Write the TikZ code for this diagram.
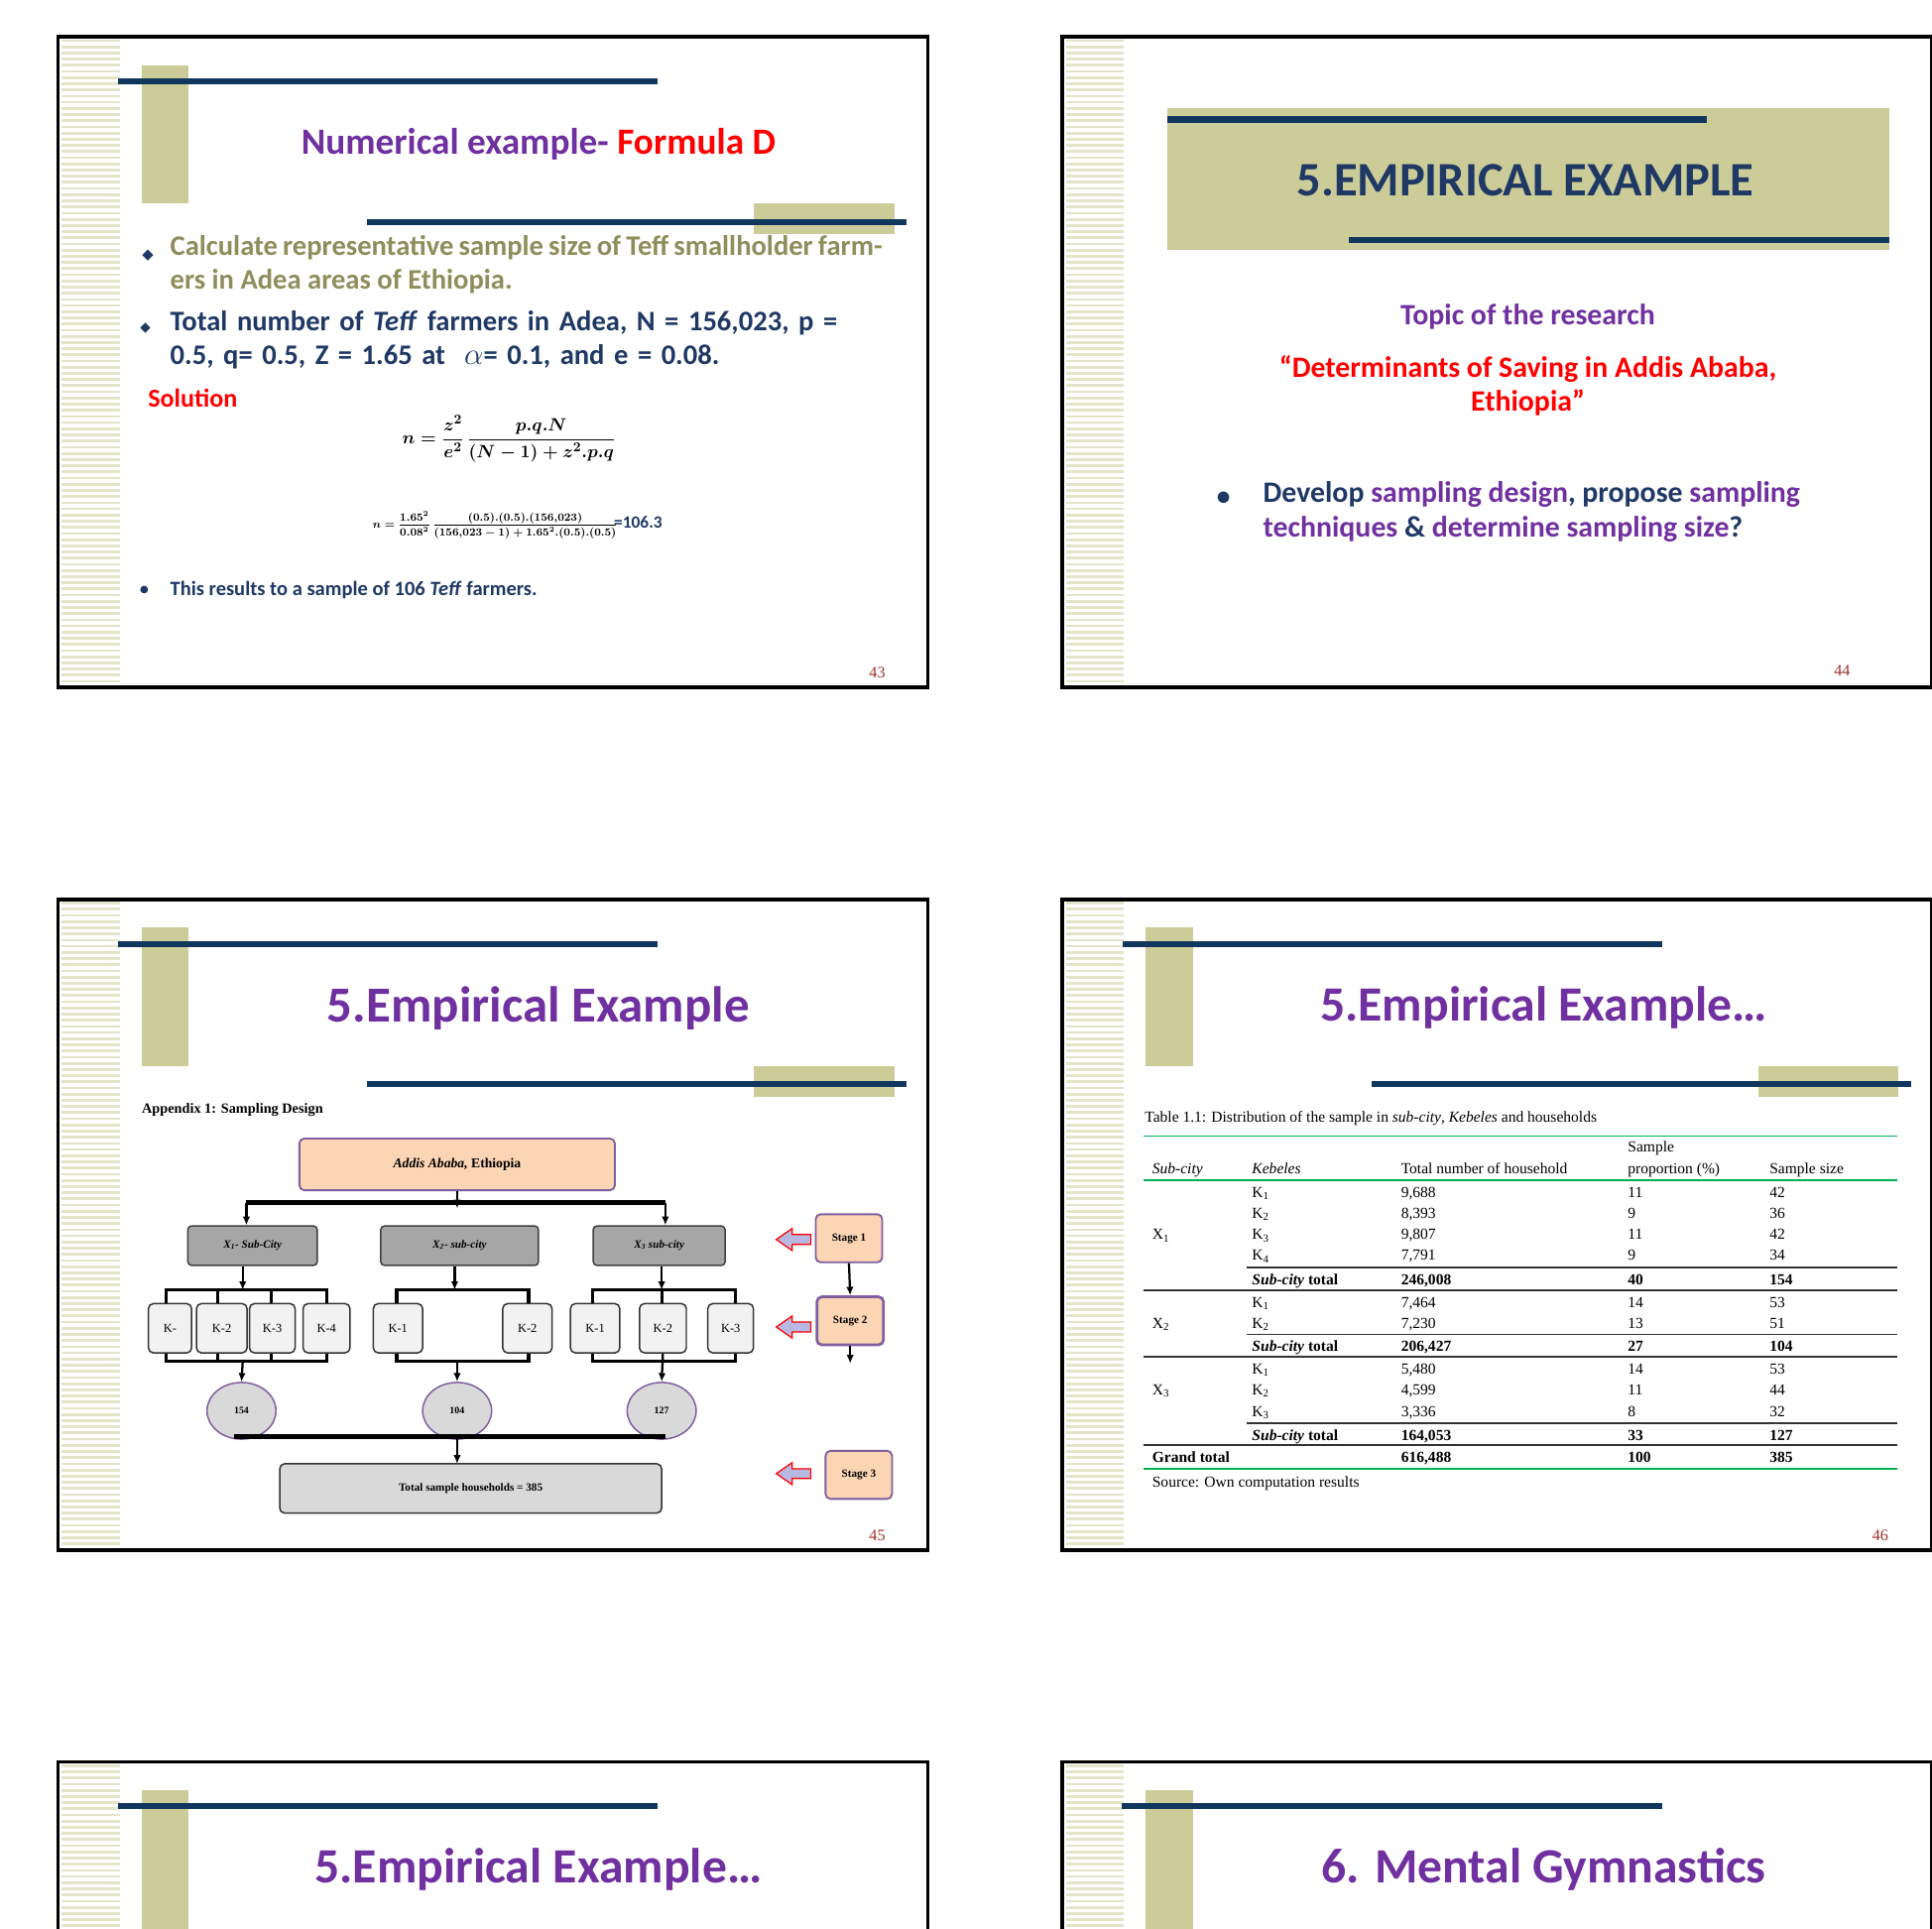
\documentclass[tikz,border=0pt]{standalone}
\usepackage{amsmath}
\usepackage{fontspec}
\setmainfont{Liberation Serif}
\newfontfamily\calfont{Carlito}
\newfontfamily\djfont{DejaVu Sans}
\usetikzlibrary{arrows.meta,shapes.geometric}
\definecolor{olive}{HTML}{CCCC99}
\definecolor{stripe}{HTML}{E4E4C8}
\definecolor{navy}{HTML}{12375F}
\definecolor{purp}{HTML}{7030A0}
\definecolor{oliveTxt}{HTML}{8E8E5C}
\definecolor{navyTxt}{HTML}{1F3864}
\definecolor{peach}{HTML}{FCD5B4}
\definecolor{boxpurp}{HTML}{7F5FA0}
\definecolor{pnum}{HTML}{A0302A}
\definecolor{tgreen}{HTML}{00B050}
\newcommand{\SlideFrame}[2]{%
  \foreach \k in {3,8,...,525} {\draw[stripe,line width=2.2] (#1+3,#2+\k) -- (#1+50,#2+\k);}
  \draw[black,line width=3] (#1,#2) rectangle (#1+706,#2+528);}
\newcommand{\SlideDeco}[2]{%
  \fill[olive] (#1+68,#2+23) rectangle (#1+106,#2+135);
  \draw[navy,line width=5] (#1+49,#2+36) -- (#1+487,#2+36);
  \fill[olive] (#1+565,#2+135) rectangle (#1+679,#2+160);
  \draw[navy,line width=5] (#1+251,#2+150) -- (#1+689,#2+150);}
\newcommand{\FS}[1]{\fontsize{#1}{1.2\dimexpr#1pt\relax}\selectfont}
\tikzset{x=1pt,y=-1pt,
  sub/.style={draw=black!75,line width=1.2,fill=black!35,rounded corners=3,minimum width=#1,minimum height=32,font=\FS{9}\bfseries\itshape},
  kbox/.style={draw=black!80,line width=1.2,fill=black!5,rounded corners=4,minimum width=#1,minimum height=40,font=\FS{10}},
  circ/.style={ellipse,draw=boxpurp,line width=1.2,fill=black!15,minimum width=56,minimum height=46,font=\FS{8}\bfseries,inner sep=0},
  stg/.style={draw=boxpurp,line width=1.5,fill=peach,rounded corners=4,minimum width=54,minimum height=39,font=\FS{9}\bfseries},
  ar/.style={line width=1.8,-{Latex[length=7,width=6]}},
  bar/.style={line width=3.5},
  tx/.style={anchor=base west,inner sep=0,font=\FS{12.5}},
  blk/.style={draw=red,line width=1,fill=gray!60!blue!40}}
\begin{document}
\begin{tikzpicture}
\useasboundingbox (0,0) rectangle (1568,1565);
\fill[white] (0,0) rectangle (1568,1565);
\begin{scope}
\clip (0,0) rectangle (1568,1565);
\SlideFrame{47}{30}\SlideFrame{862}{30}
\SlideFrame{47}{730}\SlideFrame{862}{730}
\SlideFrame{47}{1430}\SlideFrame{862}{1430}
\SlideDeco{47}{30}\SlideDeco{47}{730}\SlideDeco{862}{730}
\fill[olive] (115,1453) rectangle (153,1570);
\draw[navy,line width=5] (96,1466) -- (534,1466);
\fill[olive] (930,1453) rectangle (968,1570);
\draw[navy,line width=5] (910,1466) -- (1349,1466);
\fill[olive] (947,88) rectangle (1533,203);
\draw[navy,line width=5] (947,97) -- (1385,97);
\draw[navy,line width=5] (1095,195) -- (1533,195);
\end{scope}
% ---------- slide 1
\node[font=\calfont\FS{30}\bfseries] (t1) at (437,117) {\textcolor{purp}{Numerical example-} \textcolor{red}{Formula D}};
\node[font=\djfont\FS{12},text=navyTxt] (b1) at (120,207) {◆};
\node[anchor=north west,text width=578,align=justify,font=\calfont\FS{23}\bfseries,text=oliveTxt,inner sep=0] (p1) at (138,191) {Calculate representative sample size of Teff smallholder farmers in Adea areas of Ethiopia.};
\node[font=\djfont\FS{11},text=navyTxt] (b2) at (118,266) {◆};
\node[anchor=north west,text width=580,font=\calfont\FS{23}\bfseries,text=navyTxt,inner sep=0] (p2) at (138,252) {Total number of \textit{Teff} farmers in Adea, N = 156,023, p = 0.5, q= 0.5, Z = 1.65 at \ $\alpha$= 0.1, and e = 0.08.};
\node[anchor=west,font=\calfont\FS{21}\bfseries,text=red,inner sep=0] (sol) at (120,323) {Solution};
\node[font=\FS{15}] (f1) at (413,356) {$\boldsymbol{n=\dfrac{z^2}{e^2}\,\dfrac{p.q.N}{(N-1)+z^2.p.q}}$};
\node[font=\FS{9}] (f2) at (420,426) {$\boldsymbol{n=\dfrac{1.65^2}{0.08^2}\,\dfrac{(0.5).(0.5).(156{,}023)}{(156{,}023-1)+1.65^2.(0.5).(0.5)}}$\hspace{-3pt}\textcolor{navyTxt}{\FS{14}\calfont\bfseries =106.3}};
\node[font=\djfont\FS{8},text=navyTxt] (b3) at (117,479) {●};
\node[anchor=west,font=\calfont\FS{16.5}\bfseries,text=navyTxt,inner sep=0] (p3) at (138,479) {This results to a sample of 106 \textit{Teff} farmers.};
\node[font=\FS{13},text=pnum] (n43) at (712,546) {43};
% ---------- slide 2
\node[font=\calfont\FS{39}\bfseries,text=navyTxt] (t2) at (1238,146) {5.EMPIRICAL EXAMPLE};
\node[font=\calfont\FS{24}\bfseries,text=purp] (top) at (1240,257) {Topic of the research};
\node[font=\calfont\FS{24}\bfseries,text=red,align=center] (q) at (1240,313) {“Determinants of Saving in Addis Ababa,\\[-2pt] Ethiopia”};
\node[font=\calfont\FS{22}\bfseries,text=navyTxt] (b4) at (993,405) {•};
\node[anchor=north west,font=\calfont\FS{24}\bfseries,text=navyTxt,align=left,inner sep=0] (dev) at (1025,391) {Develop \textcolor{purp}{sampling design}, propose \textcolor{purp}{sampling}\\[-1pt] \textcolor{purp}{techniques} \& \textcolor{purp}{determine sampling size}?};
\node[font=\FS{13},text=pnum] (n44) at (1495,544) {44};
% ---------- slide 3
\node[font=\calfont\FS{41}\bfseries,text=purp] (t3) at (437,818) {5.Empirical Example};
\node[anchor=west,font=\FS{11.5}\bfseries,inner sep=0] (app) at (115,901) {Appendix 1: Sampling Design};
\node[draw=boxpurp,line width=1.5,fill=peach,rounded corners=4,minimum width=256,minimum height=42,font=\FS{11}\bfseries] (aa) at (371,945) {\textit{Addis Ababa,} Ethiopia};
\node[sub=105] (x1) at (205,1011) {X\textsubscript{1}- Sub-City};
\node[sub=128] (x2) at (373,1011) {X\textsubscript{2}- sub-city};
\node[sub=107] (x3) at (535,1011) {X\textsubscript{3} sub-city};
\draw[bar] (200,976) -- (540,976);
\draw[ar] (aa.south) -- ++(0,14);
\draw[ar] (200,976) -- (x1.north -| 200,0);
\draw[ar] (540,976) -- (x3.north -| 540,0);
\node[kbox=35] (k11) at (138,1078) {K-};
\node[kbox=41] (k12) at (180,1078) {K-2};
\node[kbox=37] (k13) at (221,1078) {K-3};
\node[kbox=38] (k14) at (265,1078) {K-4};
\node[kbox=40] (k21) at (323,1078) {K-1};
\node[kbox=40] (k22) at (428,1078) {K-2};
\node[kbox=40] (k31) at (483,1078) {K-1};
\node[kbox=38] (k32) at (538,1078) {K-2};
\node[kbox=37] (k33) at (593,1078) {K-3};
\draw[ar] (x1.south -| 197,0) -- (197,1047);
\draw[ar] (x2.south -| 369,0) -- (369,1047);
\draw[ar] (x3.south -| 537,0) -- (537,1047);
\draw[line width=2.5] (k11.north -| 135,0) |- (265,1047) -- (k14.north -| 265,0);
\draw[line width=2.5] (177,1047) -- (k12.north -| 177,0) (220,1047) -- (k13.north -| 220,0);
\draw[line width=2.5] (k21.north -| 322,0) |- (429,1047) -- (k22.north -| 429,0);
\draw[line width=2.5] (k31.north -| 481,0) |- (597,1047) -- (k33.north -| 597,0);
\draw[line width=2.5] (537,1047) -- (k32.north -| 537,0);
\draw[line width=2.5] (k11.south -| 135,0) |- (265,1105) -- (k14.south -| 265,0);
\draw[line width=2.5] (177,1105) -- (k12.south -| 177,0) (220,1105) -- (k13.south -| 220,0);
\draw[line width=2.5] (k21.south -| 322,0) |- (429,1105) -- (k22.south -| 429,0);
\draw[line width=2.5] (k31.south -| 481,0) |- (597,1105) -- (k33.south -| 597,0);
\node[circ] (c1) at (196,1145) {154};
\node[circ] (c2) at (371,1145) {104};
\node[circ] (c3) at (537,1145) {127};
\draw[ar] (197,1105) -- (c1.north);
\draw[ar] (371,1105) -- (c2.north);
\draw[ar] (k32.south) -- (c3.north);
\draw[bar] (190,1166) -- (540,1166);
\node[draw=black!80,line width=1.2,fill=black!15,rounded corners=4,minimum width=310,minimum height=40,font=\FS{9}\bfseries] (tot) at (382,1208) {Total sample households = 385};
\draw[ar] (371,1166) -- (371,1188);
\node[stg] (s1) at (689,1005) {Stage 1};
\node[stg,line width=2.2] (s2) at (690,1072) {Stage 2};
\node[stg] (s3) at (697,1197) {Stage 3};
\draw[ar] (s1.south) -- (s2.north);
\draw[ar] (s2.south) -- ++(0,14);
\foreach \yy/\xx in {1006/658,1077/658,1196/658} {
  \draw[blk] (\xx,\yy-4) -- (643,\yy-4) -- (643,\yy-9) -- (630,\yy) -- (643,\yy+9) -- (643,\yy+4) -- (\xx,\yy+4) -- cycle;}
\node[font=\FS{13},text=pnum] (n45) at (712,1246) {45};
% ---------- slide 4
\node[font=\calfont\FS{40}\bfseries,text=purp] (t4) at (1253,818) {5.Empirical Example…};
\node[tx] (cap) at (929,911) {Table 1.1: Distribution of the sample in \textit{sub-city}, \textit{Kebeles} and households};
\draw[tgreen,line width=1.5] (928,922) -- (1540,922);
\node[tx] (hs) at (1321,935) {Sample};
\node[tx] (h1) at (935,953) {\textit{Sub-city}};
\node[tx] (h2) at (1016,953) {\textit{Kebeles}};
\node[tx] (h3) at (1137,953) {Total number of household};
\node[tx] (h4) at (1321,953) {proportion (\%)};
\node[tx] (h5) at (1436,953) {Sample size};
\draw[tgreen,line width=1.5] (928,958) -- (1540,958);
\foreach \yy/\k/\t/\p/\s in {972/1/{9,688}/11/42, 989/2/{8,393}/9/36, 1006/3/{9,807}/11/42, 1023/4/{7,791}/9/34,
  1061/1/{7,464}/14/53, 1078/2/{7,230}/13/51,
  1115/1/{5,480}/14/53, 1132/2/{4,599}/11/44, 1150/3/{3,336}/8/32} {
  \node[tx] at (1016,\yy) {K\textsubscript{\k}}; \node[tx] at (1137,\yy) {\t}; \node[tx] at (1321,\yy) {\p}; \node[tx] at (1436,\yy) {\s};}
\node[tx] (x1r) at (935,1006) {X\textsubscript{1}};
\node[tx] (x2r) at (935,1078) {X\textsubscript{2}};
\node[tx] (x3r) at (935,1132) {X\textsubscript{3}};
\foreach \yy/\t/\p/\s in {1043/{246,008}/40/154, 1097/{206,427}/27/104, 1169/{164,053}/33/127} {
  \node[tx,font=\FS{12.5}\bfseries] at (1016,\yy) {\textit{Sub-city} total}; \node[tx,font=\FS{12.5}\bfseries] at (1137,\yy) {\t};
  \node[tx,font=\FS{12.5}\bfseries] at (1321,\yy) {\p}; \node[tx,font=\FS{12.5}\bfseries] at (1436,\yy) {\s};}
\foreach \yy in {1029,1083,1155} {\draw[black!80,line width=1.5] (1012,\yy) -- (1540,\yy);}
\foreach \yy in {1047,1101,1173} {\draw[black!80,line width=1.5] (928,\yy) -- (1540,\yy);}
\node[tx,font=\FS{12.5}\bfseries] (gt) at (935,1187) {Grand total};
\node[tx,font=\FS{12.5}\bfseries] at (1137,1187) {616,488};
\node[tx,font=\FS{12.5}\bfseries] at (1321,1187) {100};
\node[tx,font=\FS{12.5}\bfseries] at (1436,1187) {385};
\draw[tgreen,line width=1.5] (928,1192) -- (1540,1192);
\node[tx] (src) at (935,1207) {Source: Own computation results};
\node[font=\FS{13},text=pnum] (n46) at (1526,1246) {46};
% ---------- slides 5 and 6
\node[font=\calfont\FS{40}\bfseries,text=purp] (t5) at (437,1517) {5.Empirical Example…};
\node[font=\calfont\FS{40}\bfseries,text=purp] (t6) at (1253,1517) {6. Mental Gymnastics};
\end{tikzpicture}
\end{document}
